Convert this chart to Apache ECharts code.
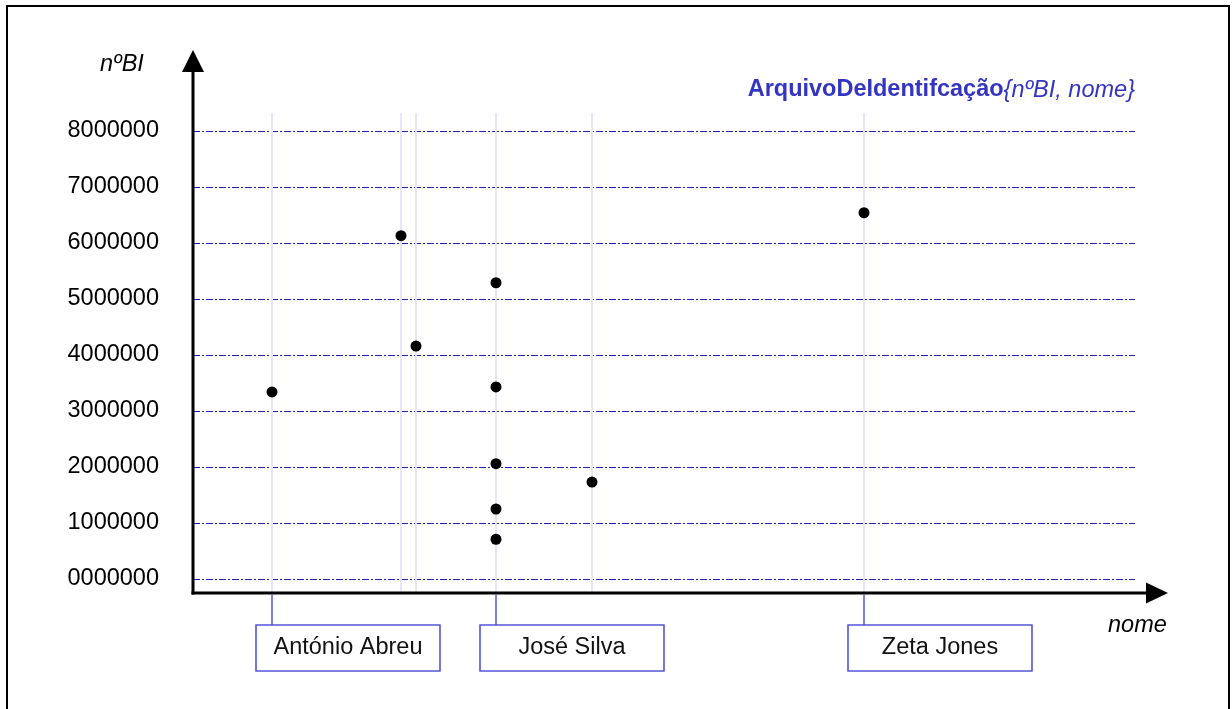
<!DOCTYPE html>
<html>
<head>
<meta charset="utf-8">
<script src="https://cdn.jsdelivr.net/npm/echarts@6/dist/echarts.min.js"></script>
<style>html,body{margin:0;padding:0;background:#fff}#c{width:1232px;height:709px}</style>
</head>
<body>
<div id="c"></div>
<script>
// nominal axis: position of each name (alphabetical order)
const names = ['António Abreu', 'José Silva', 'Zeta Jones'];
const namePos = [79, 303, 671];
// guide columns (every distinct name position)
const columnPos = [79, 208, 223, 303, 399, 671];
// points: nome position, nºBI value
const pointX = [79, 208, 223, 303, 303, 303, 303, 303, 399, 671];
const pointY = [3340000, 6130000, 4160000, 5290000, 3430000, 2060000, 1250000, 710000, 1730000, 6540000];
const yTicks = [0, 1000000, 2000000, 3000000, 4000000, 5000000, 6000000, 7000000, 8000000];
const xMax = 942;

const FONT = 'Liberation Sans, Arial, sans-serif';
const FS = 23.5;
const BLUE = '#3434c4';
const BOX = '#5555d8';

const chart = echarts.init(document.getElementById('c'), null, {renderer: 'canvas'});

const option = {
  animation: false,
  backgroundColor: '#fff',
  title: {
    text: '{b|ArquivoDeIdentifcação}{nºBI, nome}',
    right: 97,
    top: 78,
    padding: 0,
    textStyle: {
      fontFamily: FONT, fontSize: FS, fontStyle: 'italic', fontWeight: 'normal', color: BLUE,
      rich: { b: { fontFamily: FONT, fontSize: FS, fontWeight: 'bold', fontStyle: 'normal', color: BLUE } }
    }
  },
  grid: { left: 193, right: 97, top: 131, bottom: 130, containLabel: false },
  xAxis: { type: 'value', min: 0, max: xMax, show: false },
  yAxis: {
    type: 'value', min: yTicks[0], max: yTicks[yTicks.length - 1], interval: yTicks[1] - yTicks[0],
    axisLine: { show: false }, axisTick: { show: false },
    axisLabel: { formatter: v => String(v).padStart(7, '0'), fontFamily: FONT, fontSize: FS, color: '#000', margin: 34 },
    splitLine: { lineStyle: { color: '#1e1eb8', width: 1.2, type: [7, 2, 2, 2] } }
  },
  graphic: [
    { type: 'rect', shape: { x: 7, y: 6, width: 1222, height: 730 }, style: { fill: null, stroke: '#000', lineWidth: 2 }, silent: true, z: 100 },
    { type: 'text', left: 100, top: 53, style: { text: 'nºBI', font: 'italic ' + FS + 'px ' + FONT, fill: '#000' }, silent: true },
    { type: 'text', left: 1108, top: 614, style: { text: 'nome', font: 'italic ' + FS + 'px ' + FONT, fill: '#000' }, silent: true }
  ],
  series: [
    {
      type: 'custom', silent: true, z: 1, clip: false,
      data: columnPos.map(x => [x]),
      renderItem: (params, api) => {
        const p = api.coord([api.value(0), 0]);
        const top = api.coord([api.value(0), yTicks[yTicks.length - 1]])[1] - 18;
        return { type: 'line', shape: { x1: p[0], y1: top, x2: p[0], y2: p[1] + 14 }, style: { stroke: '#e6e6fa', lineWidth: 2 } };
      }
    },
    {
      type: 'custom', silent: true, z: 3, clip: false,
      data: [[0]],
      renderItem: (params, api) => {
        const o = api.coord([0, 0]);
        const r = api.coord([xMax, 0]);
        const topY = api.coord([0, yTicks[yTicks.length - 1]])[1];
        const ay = o[1] + 14;
        const ax = o[0];
        const ex = r[0] + 11;
        return {
          type: 'group', children: [
            { type: 'line', shape: { x1: ax, y1: ay + 1.5, x2: ax, y2: topY - 60 }, style: { stroke: '#000', lineWidth: 3 } },
            { type: 'polygon', shape: { points: [[ax - 11, topY - 59], [ax + 11, topY - 59], [ax, topY - 81]] }, style: { fill: '#000' } },
            { type: 'line', shape: { x1: ax - 1.5, y1: ay, x2: ex + 1, y2: ay }, style: { stroke: '#000', lineWidth: 3 } },
            { type: 'polygon', shape: { points: [[ex, ay - 10.5], [ex, ay + 10.5], [ex + 22, ay]] }, style: { fill: '#000' } }
          ]
        };
      }
    },
    {
      type: 'custom', silent: true, z: 4, clip: false,
      data: namePos.map((x, i) => [x, i]),
      renderItem: (params, api) => {
        const p = api.coord([api.value(0), 0]);
        const ay = p[1] + 14;
        const name = names[api.value(1)];
        const bx = p[0] - 16, by = ay + 32, bw = 184, bh = 46;
        return {
          type: 'group', children: [
            { type: 'line', shape: { x1: p[0], y1: ay + 1.5, x2: p[0], y2: by }, style: { stroke: BOX, lineWidth: 1.5 } },
            { type: 'rect', shape: { x: bx, y: by, width: bw, height: bh }, style: { fill: '#fff', stroke: BOX, lineWidth: 1.6 } },
            { type: 'text', x: bx + bw / 2, y: by + bh / 2, style: { text: name, font: FS + 'px ' + FONT, fill: '#111', align: 'center', verticalAlign: 'middle' } }
          ]
        };
      }
    },
    {
      type: 'scatter', z: 5,
      data: pointX.map((x, i) => [x, pointY[i]]),
      symbol: 'circle', symbolSize: 11,
      itemStyle: { color: '#000', opacity: 1 }
    }
  ]
};
chart.setOption(option);
</script>
</body>
</html>
